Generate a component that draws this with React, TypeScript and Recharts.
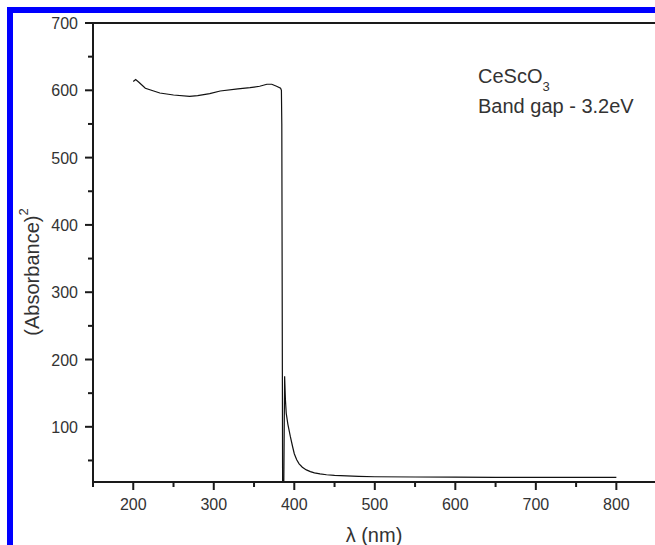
import { LineChart, Line, XAxis, YAxis, ReferenceLine, Label } from "recharts";

// wavelength (nm) and (Absorbance)^2
const wavelengths = [
  200, 203, 207, 215, 233, 250, 270, 280, 295, 308, 330, 345, 357, 366, 372, 378, 383,
  384, 384.5, 385.5, 387, 388, 389, 390, 392, 395, 398, 400, 403, 406, 410, 415, 420,
  425, 432, 440, 450, 465, 480, 500, 550, 600, 650, 700, 750, 800,
];
const absorbance2 = [
  613, 616, 612, 603, 596, 593, 591, 592, 595, 599, 602, 604, 606, 609, 609, 606, 603,
  600, 550, 18, 18, 175, 140, 120, 104, 86, 70, 60, 51, 45, 40, 36, 33.5,
  31.5, 30, 28.8, 27.8, 27, 26.3, 25.8, 25.4, 25.2, 25, 25, 25, 25,
];

const xTicks = [150, 200, 250, 300, 350, 400, 450, 500, 550, 600, 650, 700, 750, 800];
const yTicks = [50, 100, 150, 200, 250, 300, 350, 400, 450, 500, 550, 600, 650, 700];

const data = wavelengths.map((w, i) => ({ nm: w, abs: absorbance2[i] }));

const AXIS = "#1a1a1a";
const TXT = "#333";
const FONT = "Arial, 'Liberation Sans', sans-serif";

const XTick = (props: any) => {
  const { x, y, payload } = props;
  const major = payload.value % 100 === 0;
  return (
    <g>
      <line x1={x} y1={y} x2={x} y2={y + (major ? 8 : 5)} stroke={AXIS} strokeWidth={2} />
      {major && (
        <text x={x} y={y + 28} textAnchor="middle" fontSize={16} fill={TXT} fontFamily={FONT}>
          {payload.value}
        </text>
      )}
    </g>
  );
};

const YTick = (props: any) => {
  const { x, y, payload } = props;
  const major = payload.value % 100 === 0;
  return (
    <g>
      <line x1={x} y1={y} x2={x - (major ? 8 : 5)} y2={y} stroke={AXIS} strokeWidth={2} />
      {major && (
        <text x={x - 15} y={y + 6} textAnchor="end" fontSize={16} fill={TXT} fontFamily={FONT}>
          {payload.value}
        </text>
      )}
    </g>
  );
};

export default function App() {
  return (
    <div
      style={{
        position: "absolute",
        left: 7,
        top: 7,
        width: 642,
        height: 532,
        borderTop: "6px solid #0000ff",
        borderLeft: "6px solid #0000ff",
        background: "#fff",
        overflow: "hidden",
      }}
    >
      <LineChart width={642} height={532} data={data} margin={{ top: 10, right: 0, left: 0, bottom: 0 }}>
        <XAxis
          dataKey="nm"
          type="number"
          domain={[150, 848]}
          ticks={xTicks}
          allowDataOverflow
          height={63}
          tickSize={0}
          tickMargin={0}
          tickLine={false}
          tick={<XTick />}
          axisLine={{ stroke: AXIS, strokeWidth: 2 }}
        >
          <Label
            content={() => (
              <text x={361} y={529} textAnchor="middle" fontSize={20} fill={TXT} fontFamily={FONT}>
                λ (nm)
              </text>
            )}
          />
        </XAxis>
        <YAxis
          type="number"
          domain={[18, 700]}
          ticks={yTicks}
          allowDataOverflow
          width={80}
          tickSize={0}
          tickMargin={0}
          tickLine={false}
          tick={<YTick />}
          axisLine={{ stroke: AXIS, strokeWidth: 2 }}
        >
          <Label
            content={() => (
              <text
                x={19}
                y={259}
                textAnchor="middle"
                dominantBaseline="central"
                fontSize={20}
                fill={TXT}
                fontFamily={FONT}
                transform="rotate(-90, 19, 259)"
              >
                (Absorbance)
                <tspan dy={-9} fontSize={13}>2</tspan>
              </text>
            )}
          />
        </YAxis>
        <ReferenceLine y={700} stroke={AXIS} strokeWidth={2}>
          <Label
            content={() => (
              <g fontFamily={FONT} fill={TXT} fontSize={20}>
                <text x={465} y={70}>
                  CeScO
                  <tspan dy={8} fontSize={13}>3</tspan>
                </text>
                <text x={465} y={100}>Band gap - 3.2eV</text>
              </g>
            )}
          />
        </ReferenceLine>
        <Line
          dataKey="abs"
          type="linear"
          stroke="#111"
          strokeWidth={1.2}
          dot={false}
          isAnimationActive={false}
        />
      </LineChart>
    </div>
  );
}
